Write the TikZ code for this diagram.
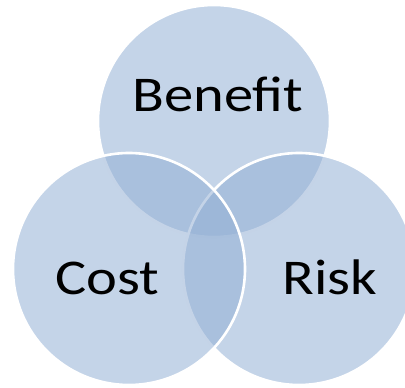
\documentclass[tikz,border=0pt]{standalone}
\usepackage{fontspec}
\setmainfont{Carlito}
\definecolor{vennblue}{RGB}{146,175,212}
\begin{document}
\begin{tikzpicture}[x=1pt,y=-1pt,
  venn/.style={circle, minimum size=232pt, inner sep=0pt, fill=vennblue, fill opacity=0.54, draw=white, line width=2.6pt},
  lbl/.style={anchor=base, inner sep=0pt, text=black, font=\fontsize{50}{54}\selectfont}]
\useasboundingbox (0,0) rectangle (405,388);
\node[venn] (benefit) at (214,121) {};
\node[venn] (risk) at (299,269) {};
\node[venn] (cost) at (129,269) {};
\node[lbl] (benefitlbl) at (218,111) {\scalebox{1.17}[1]{Benefit}};
\node[lbl] (costlbl) at (107,294) {\scalebox{1.17}[1]{Cost}};
\node[lbl] (risklbl) at (330,294) {\scalebox{1.17}[1]{Risk}};
\end{tikzpicture}
\end{document}
